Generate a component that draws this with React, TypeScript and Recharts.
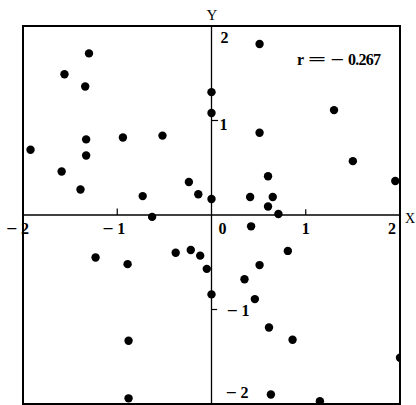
import React from 'react';
import { ScatterChart, Scatter, XAxis, YAxis, ReferenceLine, ReferenceArea, ReferenceDot } from 'recharts';

const xValues = [-1.30, -1.56, -1.34, -1.33, -0.94, -0.52, -1.92, -1.33, -1.59, -1.39, -0.24, -0.14, -0.73,
  0.51, 0.00, 0.00, 1.30, 0.51, 1.50, 0.60, 1.95, 0.41, 0.65, 0.00, 0.60, 0.71,
  -0.63, -1.23, -0.89, -0.38, -0.22, -0.12, -0.05, 0.00, -0.88, -0.88,
  0.42, 0.81, 0.51, 0.35, 0.46, 0.61, 0.86, 2.00, 0.63, 1.15];
const yValues = [1.71, 1.49, 1.36, 0.80, 0.82, 0.84, 0.69, 0.63, 0.46, 0.27, 0.35, 0.22, 0.20,
  1.81, 1.30, 1.08, 1.11, 0.87, 0.57, 0.41, 0.36, 0.19, 0.19, 0.17, 0.09, 0.01,
  -0.02, -0.45, -0.52, -0.40, -0.37, -0.43, -0.57, -0.84, -1.33, -1.94,
  -0.12, -0.38, -0.53, -0.68, -0.89, -1.19, -1.32, -1.51, -1.90, -1.97];

const xTickValues = [-2, -1, 0, 1, 2];
const xTickLabels = ['−2', '−1', '0', '1', '2'];
const yTickValues = [2, 1, -1, -2];
const yTickLabels = ['2', '1', '−1', '−2'];
const axisNames = ['X', 'Y'];
const correlationParts = ['r', '=', '−', '0.267'];

const points = xValues.map((x, i) => ({ x, y: yValues[i] }));

const FONT = '"Liberation Serif", "DejaVu Serif", serif';
const SYM_FONT = '"DejaVu Sans", sans-serif';

type Part = { text: string; dx: number; len?: number; stretch?: boolean; sym?: boolean };

// offsets of each label relative to its anchor point (style only)
const xTickStyle: { dx: number; dy: number }[] = [
  { dx: -17, dy: 19 }, { dx: -15, dy: 19 }, { dx: 7, dy: 19 }, { dx: -4, dy: 19 }, { dx: -12, dy: 19 },
];
const yTickStyle: { dx: number; dy: number }[] = [
  { dx: 9, dy: 17 }, { dx: 8, dy: 9 }, { dx: 15, dy: 6 }, { dx: 14, dy: -6 },
];

const splitMinus = (label: string, dx: number): Part[] => {
  if (label.startsWith('−')) {
    return [
      { text: '−', dx, len: 12, stretch: true, sym: true },
      { text: label.slice(1), dx: dx + 15 },
    ];
  }
  return [{ text: label, dx }];
};

const partsLabel = (parts: Part[], dy: number, size = 16, weight: any = 700) => (props: any) => {
  const vb = props.viewBox || {};
  const cx = (vb.x ?? 0) + (vb.width ?? 0) / 2;
  const cy = (vb.y ?? 0) + (vb.height ?? 0) / 2;
  return (
    <g>
      {parts.map((p, i) => (
        <text key={i} x={cx + p.dx} y={cy + dy - (p.sym ? 1 : 0)} textAnchor="start"
          fontFamily={p.sym ? SYM_FONT : FONT} fontSize={p.sym ? 14 : size}
          fontWeight={p.sym ? 400 : weight} fill="#000"
          {...(p.len ? { textLength: p.len, lengthAdjust: p.stretch ? 'spacingAndGlyphs' : 'spacing' } : {})}>
          {p.text}
        </text>
      ))}
    </g>
  );
};

const Dot = (props: any) => <circle cx={props.cx} cy={props.cy} r={4.2} fill="#000" />;

export default function App() {
  return (
    <div style={{ position: 'absolute', left: 0, top: 0, background: '#fff' }}>
      <ScatterChart width={416} height={405} margin={{ top: 26, right: 16, bottom: 1, left: 23 }}>
        <XAxis type="number" dataKey="x" domain={[-2, 2]} hide allowDataOverflow />
        <YAxis type="number" dataKey="y" domain={[-2, 2]} hide allowDataOverflow />
        <ReferenceArea x1={-2} x2={2} y1={-2} y2={2} fill="none" stroke="#000" strokeWidth={2} ifOverflow="visible" />
        <ReferenceLine x={0} stroke="#000" strokeWidth={1.3} />
        <ReferenceLine y={0} stroke="#000" strokeWidth={1.3} />
        <ReferenceLine segment={[{ x: -1, y: 0 }, { x: -1, y: 0.07 }]} stroke="#000" strokeWidth={1.2} />
        <ReferenceLine segment={[{ x: 1, y: 0 }, { x: 1, y: 0.06 }]} stroke="#000" strokeWidth={1.2} />
        <ReferenceLine segment={[{ x: 0, y: 1 }, { x: 0.07, y: 1 }]} stroke="#000" strokeWidth={1.2} />
        <ReferenceLine segment={[{ x: 0, y: -1 }, { x: 0.06, y: -1 }]} stroke="#000" strokeWidth={1.2} />
        {xTickValues.map((v, i) => (
          <ReferenceDot key={'xt' + v} x={v} y={0} r={0} fill="none" stroke="none" ifOverflow="visible"
            label={partsLabel(splitMinus(xTickLabels[i], xTickStyle[i].dx), xTickStyle[i].dy)} />
        ))}
        {yTickValues.map((v, i) => (
          <ReferenceDot key={'yt' + v} x={0} y={v} r={0} fill="none" stroke="none" ifOverflow="visible"
            label={partsLabel(splitMinus(yTickLabels[i], yTickStyle[i].dx), yTickStyle[i].dy)} />
        ))}
        <ReferenceDot x={0} y={2} r={0} fill="none" stroke="none" ifOverflow="visible"
          label={partsLabel([{ text: axisNames[1], dx: -5 }], -6, 15, 400)} />
        <ReferenceDot x={2} y={0} r={0} fill="none" stroke="none" ifOverflow="visible"
          label={partsLabel([{ text: axisNames[0], dx: 5 }], 8, 14, 400)} />
        <ReferenceDot x={2} y={2} r={0} fill="none" stroke="none" ifOverflow="visible"
          label={partsLabel([
            { text: correlationParts[0], dx: -103 },
            { text: correlationParts[1], dx: -93, len: 20, stretch: true, sym: true },
            { text: correlationParts[2], dx: -70, len: 15, stretch: true, sym: true },
            { text: correlationParts[3], dx: -52, len: 33 },
          ], 39)} />
        <Scatter data={points} shape={<Dot />} isAnimationActive={false} />
      </ScatterChart>
    </div>
  );
}
